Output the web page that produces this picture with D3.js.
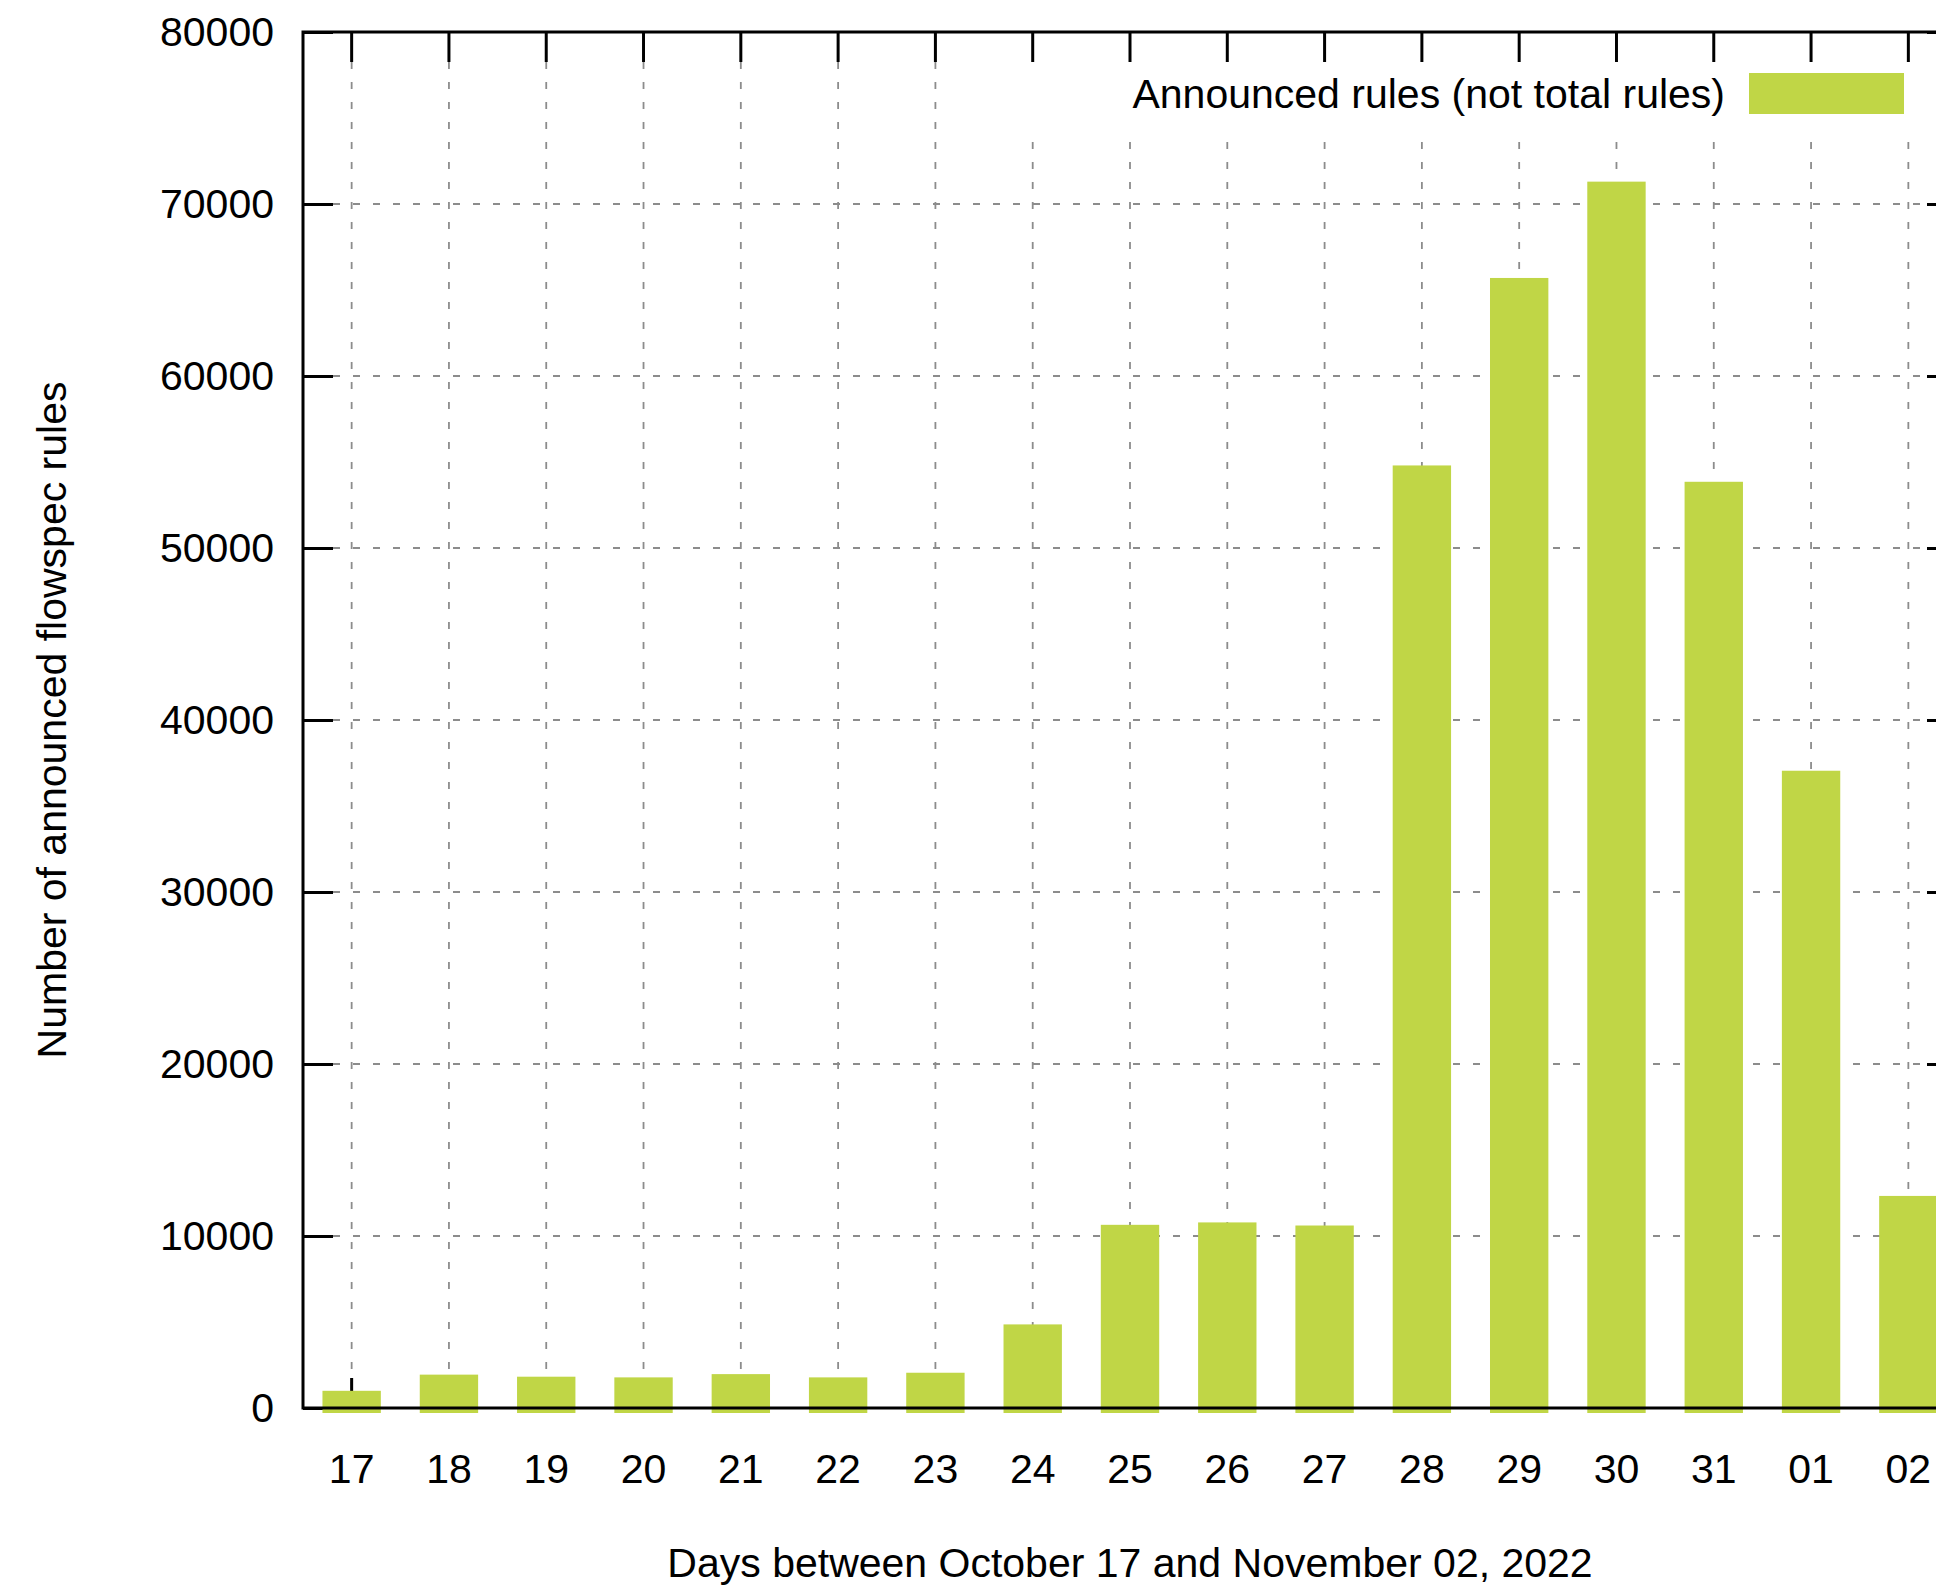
<!DOCTYPE html>
<html>
<head>
<meta charset="utf-8">
<title>Announced flowspec rules</title>
<script src="https://cdn.jsdelivr.net/npm/d3@7"></script>
<style>
    html, body { margin: 0; padding: 0; background: #fff; overflow: hidden; }
    svg { display: block; font-family: "Liberation Sans", Arial, sans-serif; }
    .grid line { stroke: #8c8c8c; stroke-width: 1.8; stroke-dasharray: 7 13; }
    .axis text { font-size: 41px; fill: #000; }
    .axis line { stroke: #000; stroke-width: 3; }
</style>
</head>
<body>
<svg id="chart"></svg>
<script>
// --- DATA ---
const days = ["17", "18", "19", "20", "21", "22", "23", "24", "25", "26", "27", "28", "29", "30", "31", "01", "02"];
const announcedRules = [1000, 1940, 1820, 1780, 1970, 1780, 2050, 4860, 10650, 10790, 10610, 54800, 65700, 71300, 53850, 37050, 12330];
const yTicks = [0, 10000, 20000, 30000, 40000, 50000, 60000, 70000, 80000];
const legendLabel = "Announced rules (not total rules)";
const xTitle = "Days between October 17 and November 02, 2022";
const yTitle = "Number of announced flowspec rules";

// --- SETUP ---
const width = 1936, height = 1585;
// the plot frame runs a little past the right edge of the picture
const plot = { left: 303, right: 1957, top: 32, bottom: 1408 };
const tickLen = 30;
const barColor = "#c0d646";

const svg = d3.select("#chart").attr("width", width).attr("height", height);

const x = d3.scaleBand()
    .domain(days)
    .range([plot.left, plot.right])
    .paddingInner(0.4)
    .paddingOuter(0.2);

const y = d3.scaleLinear()
    .domain([0, 80000])
    .range([plot.bottom, plot.top]);

const xc = d => x(d) + x.bandwidth() / 2;

// --- GRID ---
const grid = svg.append("g").attr("class", "grid");
grid.selectAll("line.v").data(days).enter().append("line")
    .attr("class", "v")
    .attr("x1", xc).attr("x2", xc)
    .attr("y1", plot.top + tickLen).attr("y2", plot.bottom);
grid.selectAll("line.h").data(yTicks.slice(1, -1)).enter().append("line")
    .attr("class", "h")
    .attr("x1", plot.left + tickLen).attr("x2", plot.right)
    .attr("y1", d => y(d)).attr("y2", d => y(d));

// legend box is opaque and hides the grid behind it
svg.append("rect")
    .attr("x", 1005).attr("y", plot.top)
    .attr("width", plot.right - 1005).attr("height", 134 - plot.top)
    .attr("fill", "#fff");

// --- AXES (ticks point inward) ---
svg.append("g").attr("class", "axis")
    .attr("transform", `translate(${plot.left},0)`)
    .call(d3.axisLeft(y).tickValues(yTicks).tickSize(-tickLen).tickPadding(29).tickFormat(d3.format("d")))
    .call(g => g.select(".domain").remove());

svg.append("g").attr("class", "axis")
    .attr("transform", `translate(${plot.right},0)`)
    .call(d3.axisRight(y).tickValues(yTicks).tickSize(-tickLen).tickFormat(""))
    .call(g => g.select(".domain").remove());

svg.append("g").attr("class", "axis")
    .attr("transform", `translate(0,${plot.bottom})`)
    .call(d3.axisBottom(x).tickSize(-tickLen).tickPadding(46))
    .call(g => g.select(".domain").remove());

svg.append("g").attr("class", "axis")
    .attr("transform", `translate(0,${plot.top})`)
    .call(d3.axisTop(x).tickSize(-tickLen).tickFormat(""))
    .call(g => g.select(".domain").remove());

// --- BARS ---
svg.append("g").selectAll("rect")
    .data(days.map((d, i) => ({ day: d, value: announcedRules[i] })))
    .enter().append("rect")
    .attr("x", d => x(d.day))
    .attr("width", x.bandwidth())
    .attr("y", d => y(d.value))
    .attr("height", d => y(0) - y(d.value) + 5)
    .attr("fill", barColor);

// --- BORDER ---
svg.append("rect")
    .attr("x", plot.left).attr("y", plot.top)
    .attr("width", plot.right - plot.left).attr("height", plot.bottom - plot.top)
    .attr("fill", "none").attr("stroke", "#000").attr("stroke-width", 3);

// --- LEGEND ---
svg.append("text")
    .attr("x", 1725).attr("y", 108)
    .attr("text-anchor", "end")
    .attr("font-size", 41)
    .text(legendLabel);
svg.append("rect")
    .attr("x", 1749).attr("y", 73)
    .attr("width", 155).attr("height", 41)
    .attr("fill", barColor);

// --- TITLES ---
svg.append("text")
    .attr("x", (plot.left + plot.right) / 2).attr("y", 1577)
    .attr("text-anchor", "middle")
    .attr("font-size", 41)
    .text(xTitle);
svg.append("text")
    .attr("transform", `translate(66,${(plot.top + plot.bottom) / 2}) rotate(-90)`)
    .attr("text-anchor", "middle")
    .attr("font-size", 41)
    .text(yTitle);
</script>
</body>
</html>
